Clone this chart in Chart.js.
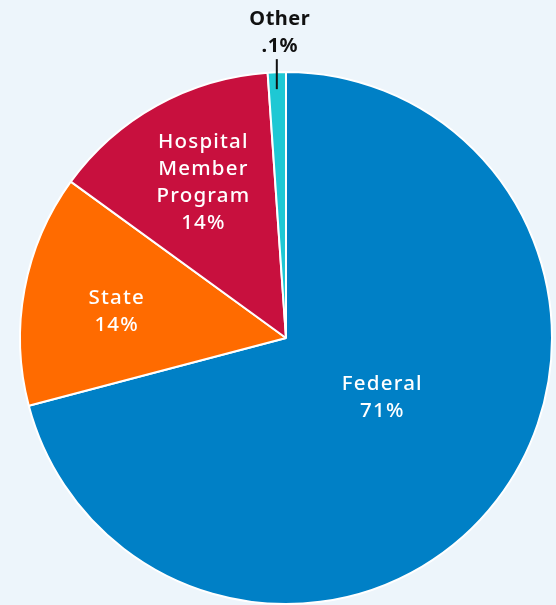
<!DOCTYPE html>
<html>
<head>
<meta charset="utf-8">
<script src="https://cdn.jsdelivr.net/npm/chart.js@4"></script>
<style>
  html, body { margin: 0; padding: 0; background: #edf5fb; }
  #wrap { width: 556px; height: 605px; position: relative; }
</style>
</head>
<body>
<div id="wrap"><canvas id="c"></canvas></div>
<script>
const CATEGORIES = ["Federal", "State", "Hospital Member Program", "Other"];
const SHARES = [70.9, 14.1, 13.9, 1.1];
const LABEL_LINES = [["Federal", "71%"], ["State", "14%"], ["Hospital", "Member", "Program", "14%"], ["Other", ".1%"]];
const COLORS = ["#0080c6", "#ff6b00", "#c8103e", "#1ec8d4"];

// where each label sits, as a fraction of the radius (null = outside with leader)
const LABEL_RADIUS = [0.42, 0.65, 0.67, null];
const LABEL_ANGLE_SHIFT = [-0.115, 0, 0.02, 0];
const LABEL_DY = [2, 6, 2, 6];

const pieLabels = {
  id: "pieLabels",
  afterDatasetsDraw(chart) {
    const { ctx } = chart;
    const arcs = chart.getDatasetMeta(0).data;
    ctx.save();
    ctx.textAlign = "center";
    ctx.textBaseline = "middle";
    const spacing = 1.2;
    ctx.letterSpacing = spacing + "px";
    arcs.forEach((arc, i) => {
      const { x, y, startAngle, endAngle, outerRadius } = arc.getProps(["x", "y", "startAngle", "endAngle", "outerRadius"], true);
      const mid = (startAngle + endAngle) / 2 + LABEL_ANGLE_SHIFT[i];
      const lines = LABEL_LINES[i];
      const lh = 27;
      if (LABEL_RADIUS[i] != null) {
        const r = outerRadius * LABEL_RADIUS[i];
        const cx = x + Math.cos(mid) * r + spacing / 2;
        const cy = y + Math.sin(mid) * r + LABEL_DY[i];
        ctx.fillStyle = "#ffffff";
        ctx.font = "500 20.5px 'Noto Sans'";
        lines.forEach((t, k) => {
          ctx.fillText(t, cx, cy + (k - (lines.length - 1) / 2) * lh);
        });
      } else {
        const ex = x + Math.cos(mid) * outerRadius;
        const ey = y + Math.sin(mid) * outerRadius;
        ctx.strokeStyle = "#111111";
        ctx.lineWidth = 2;
        ctx.beginPath();
        ctx.moveTo(ex, ey + 17);
        ctx.lineTo(ex, ey - 13);
        ctx.stroke();
        ctx.fillStyle = "#111111";
        ctx.font = "bold 20px 'Noto Sans'";
        ctx.letterSpacing = "0.5px";
        const top = ey - 13 - 9 - lh * (lines.length - 1) - 10 + LABEL_DY[i];
        lines.forEach((t, k) => ctx.fillText(t, ex + 3, top + k * lh));
      }
    });
    ctx.restore();
  }
};

new Chart(document.getElementById("c"), {
  type: "pie",
  data: {
    labels: CATEGORIES,
    datasets: [{
      data: SHARES,
      backgroundColor: COLORS,
      borderColor: "#ffffff",
      borderWidth: 2
    }]
  },
  options: {
    responsive: true,
    maintainAspectRatio: false,
    animation: false,
    layout: { padding: { top: 71, bottom: -2, left: 18, right: 2 } },
    plugins: { legend: { display: false }, tooltip: { enabled: false } }
  },
  plugins: [pieLabels]
});
</script>
</body>
</html>
